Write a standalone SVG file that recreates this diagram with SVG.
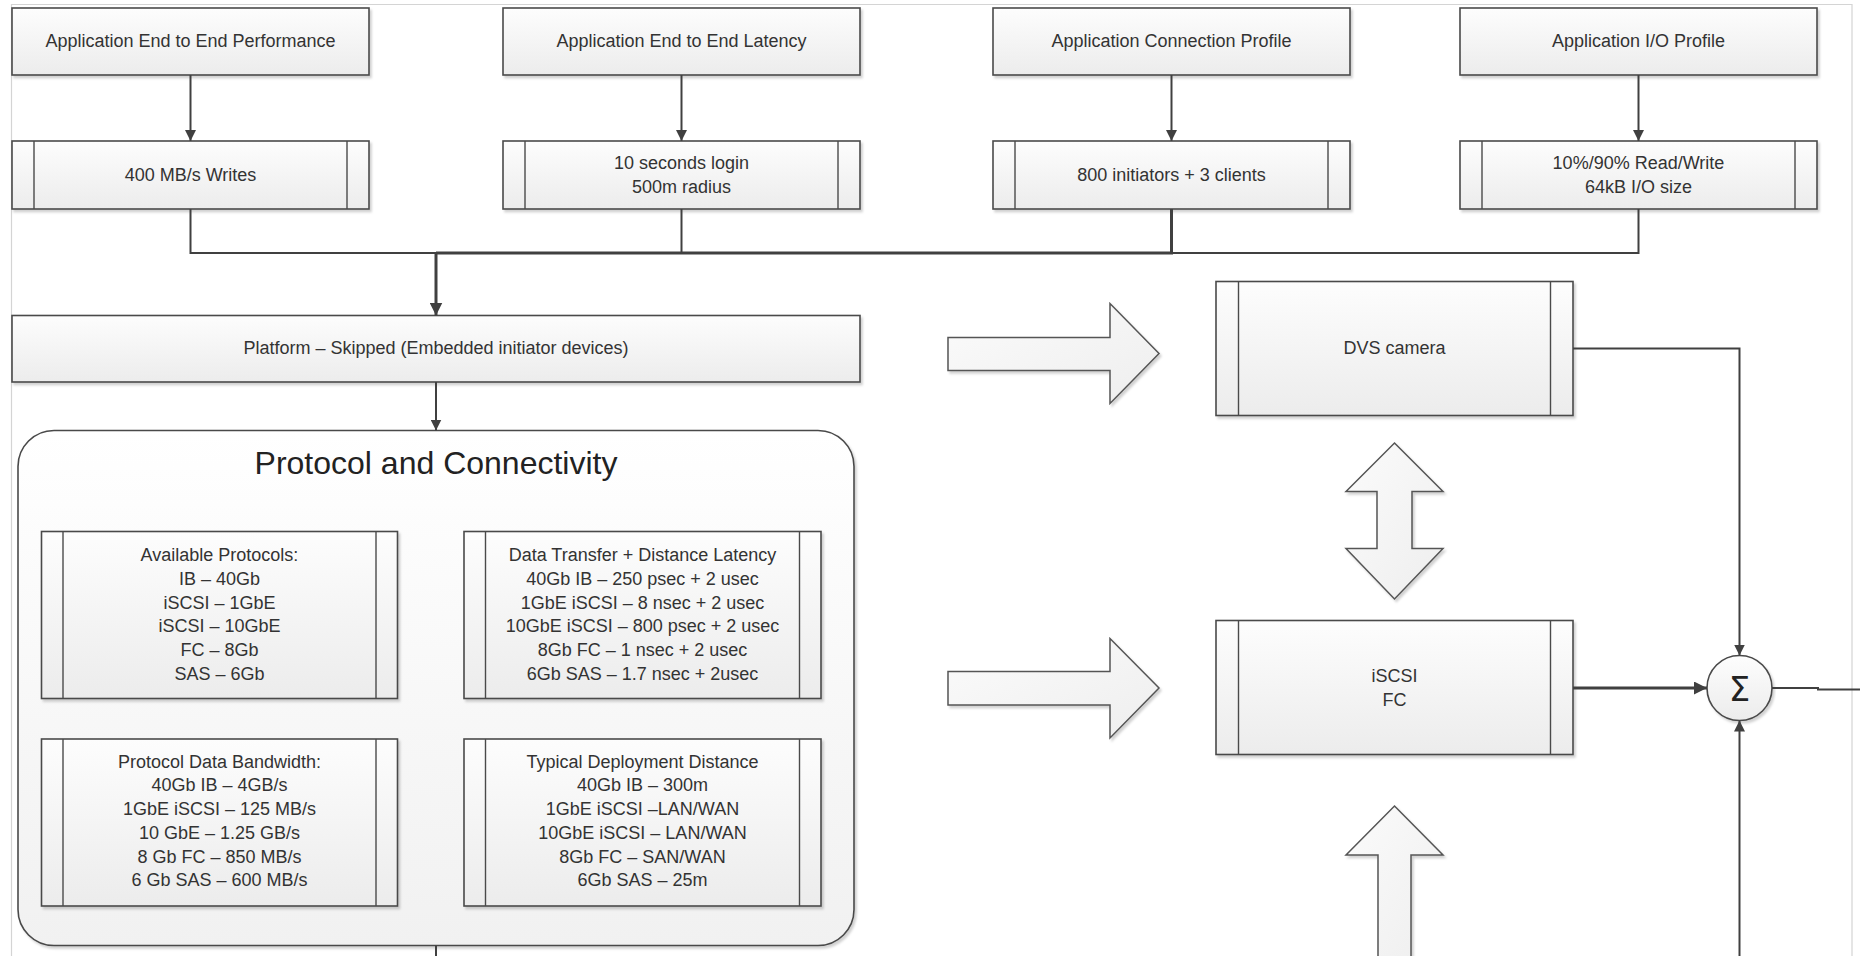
<svg xmlns="http://www.w3.org/2000/svg" width="1860" height="956" viewBox="0 0 1860 956">
<style>
  .box{fill:url(#g);stroke:#4a4a4a;stroke-width:1.6;filter:url(#sh)}
  .bar{stroke:#4a4a4a;stroke-width:1.4}
  .t{font-family:"Liberation Sans",Arial,sans-serif;font-size:18px;fill:#333;text-anchor:middle}
  .title{font-family:"Liberation Sans",Arial,sans-serif;font-size:32px;fill:#222;text-anchor:middle}
  .c{fill:none;stroke:#404040;stroke-width:2}
  .blk{fill:url(#g2);stroke:#555;stroke-width:1.5;filter:url(#sh)}
  .page{stroke:#d4d4d4;stroke-width:1.2;fill:none}
</style>
<defs>
  <linearGradient id="g" x1="0" y1="0" x2="0" y2="1">
    <stop offset="0" stop-color="#fdfdfd"/>
    <stop offset="1" stop-color="#ececec"/>
  </linearGradient>
  <linearGradient id="g2" x1="0" y1="0" x2="1" y2="1">
    <stop offset="0" stop-color="#fbfbfb"/>
    <stop offset="1" stop-color="#eeeeee"/>
  </linearGradient>
  <linearGradient id="gc" x1="0" y1="0" x2="0" y2="1">
    <stop offset="0" stop-color="#ffffff"/>
    <stop offset="1" stop-color="#f1f1f1"/>
  </linearGradient>
  <filter id="sh" x="-5%" y="-5%" width="110%" height="120%">
    <feDropShadow dx="2" dy="2.5" stdDeviation="1.2" flood-color="#000" flood-opacity="0.18"/>
  </filter>
  <marker id="ah" viewBox="0 0 10 10" refX="10" refY="5" markerWidth="11" markerHeight="11" markerUnits="userSpaceOnUse" orient="auto">
    <path d="M0,0 L10,5 L0,10 z" fill="#404040"/>
  </marker>
  <marker id="ahb" viewBox="0 0 10 10" refX="10" refY="5" markerWidth="13" markerHeight="13" markerUnits="userSpaceOnUse" orient="auto">
    <path d="M0,0 L10,5 L0,10 z" fill="#404040"/>
  </marker>
</defs>
<rect width="1860" height="956" fill="#ffffff"/>
<g id="page-border">
  <path class="page" d="M11.5,956 V4.5 H1852 V956"/>
</g>

<g id="app-perf">
  <rect class="box" x="12" y="8" width="357" height="67"/>
  <text class="t" x="190.5" y="47">Application End to End Performance</text>
</g>
<g id="app-latency">
  <rect class="box" x="503" y="8" width="357" height="67"/>
  <text class="t" x="681.5" y="47">Application End to End Latency</text>
</g>
<g id="app-conn">
  <rect class="box" x="993" y="8" width="357" height="67"/>
  <text class="t" x="1171.5" y="47">Application Connection Profile</text>
</g>
<g id="app-io">
  <rect class="box" x="1460" y="8" width="357" height="67"/>
  <text class="t" x="1638.5" y="47">Application I/O Profile</text>
</g>

<g id="perf-val">
  <rect class="box" x="12" y="141" width="357" height="68"/>
  <line class="bar" x1="34" y1="141" x2="34" y2="209"/><line class="bar" x1="347" y1="141" x2="347" y2="209"/>
  <text class="t" x="190.5" y="181">400 MB/s Writes</text>
</g>
<g id="latency-val">
  <rect class="box" x="503" y="141" width="357" height="68"/>
  <line class="bar" x1="525" y1="141" x2="525" y2="209"/><line class="bar" x1="838" y1="141" x2="838" y2="209"/>
  <text class="t" x="681.5" y="169">10 seconds login</text>
  <text class="t" x="681.5" y="192.5">500m radius</text>
</g>
<g id="conn-val">
  <rect class="box" x="993" y="141" width="357" height="68"/>
  <line class="bar" x1="1015" y1="141" x2="1015" y2="209"/><line class="bar" x1="1328" y1="141" x2="1328" y2="209"/>
  <text class="t" x="1171.5" y="181">800 initiators + 3 clients</text>
</g>
<g id="io-val">
  <rect class="box" x="1460" y="141" width="357" height="68"/>
  <line class="bar" x1="1482" y1="141" x2="1482" y2="209"/><line class="bar" x1="1795" y1="141" x2="1795" y2="209"/>
  <text class="t" x="1638.5" y="169">10%/90% Read/Write</text>
  <text class="t" x="1638.5" y="192.5">64kB I/O size</text>
</g>

<g id="platform">
  <rect class="box" x="12" y="315.5" width="848" height="66.5"/>
  <text class="t" x="436" y="354">Platform – Skipped (Embedded initiator devices)</text>
</g>

<g id="protocol-connectivity">
  <rect x="18" y="430.5" width="836" height="515" rx="36" ry="36" fill="url(#gc)" stroke="#4a4a4a" stroke-width="1.6" filter="url(#sh)"/>
  <text class="title" x="436" y="474">Protocol and Connectivity</text>
</g>
<g id="available-protocols">
  <rect class="box" x="41.5" y="531.5" width="356" height="167"/>
  <line class="bar" x1="63" y1="531.5" x2="63" y2="698.5"/><line class="bar" x1="376" y1="531.5" x2="376" y2="698.5"/>
  <text class="t" x="219.5" y="561">Available Protocols:</text>
  <text class="t" x="219.5" y="585">IB – 40Gb</text>
  <text class="t" x="219.5" y="608.5">iSCSI – 1GbE</text>
  <text class="t" x="219.5" y="632">iSCSI – 10GbE</text>
  <text class="t" x="219.5" y="656">FC – 8Gb</text>
  <text class="t" x="219.5" y="680">SAS – 6Gb</text>
</g>
<g id="data-transfer">
  <rect class="box" x="464" y="531.5" width="357" height="167"/>
  <line class="bar" x1="485.5" y1="531.5" x2="485.5" y2="698.5"/><line class="bar" x1="799.5" y1="531.5" x2="799.5" y2="698.5"/>
  <text class="t" x="642.5" y="561">Data Transfer + Distance Latency</text>
  <text class="t" x="642.5" y="585">40Gb IB – 250 psec + 2 usec</text>
  <text class="t" x="642.5" y="608.5">1GbE iSCSI – 8 nsec + 2 usec</text>
  <text class="t" x="642.5" y="632">10GbE iSCSI – 800 psec + 2 usec</text>
  <text class="t" x="642.5" y="656">8Gb FC – 1 nsec + 2 usec</text>
  <text class="t" x="642.5" y="680">6Gb SAS – 1.7 nsec + 2usec</text>
</g>
<g id="data-bandwidth">
  <rect class="box" x="41.5" y="739" width="356" height="167"/>
  <line class="bar" x1="63" y1="739" x2="63" y2="906"/><line class="bar" x1="376" y1="739" x2="376" y2="906"/>
  <text class="t" x="219.5" y="767.5">Protocol Data Bandwidth:</text>
  <text class="t" x="219.5" y="791">40Gb IB – 4GB/s</text>
  <text class="t" x="219.5" y="815">1GbE iSCSI – 125 MB/s</text>
  <text class="t" x="219.5" y="838.5">10 GbE – 1.25 GB/s</text>
  <text class="t" x="219.5" y="862.5">8 Gb FC – 850 MB/s</text>
  <text class="t" x="219.5" y="886">6 Gb SAS – 600 MB/s</text>
</g>
<g id="deployment-distance">
  <rect class="box" x="464" y="739" width="357" height="167"/>
  <line class="bar" x1="485.5" y1="739" x2="485.5" y2="906"/><line class="bar" x1="799.5" y1="739" x2="799.5" y2="906"/>
  <text class="t" x="642.5" y="767.5">Typical Deployment Distance</text>
  <text class="t" x="642.5" y="791">40Gb IB – 300m</text>
  <text class="t" x="642.5" y="815">1GbE iSCSI –LAN/WAN</text>
  <text class="t" x="642.5" y="838.5">10GbE iSCSI – LAN/WAN</text>
  <text class="t" x="642.5" y="862.5">8Gb FC – SAN/WAN</text>
  <text class="t" x="642.5" y="886">6Gb SAS – 25m</text>
</g>

<g id="dvs-camera">
  <rect class="box" x="1216" y="281.5" width="357" height="134"/>
  <line class="bar" x1="1238.5" y1="281.5" x2="1238.5" y2="415.5"/><line class="bar" x1="1550.5" y1="281.5" x2="1550.5" y2="415.5"/>
  <text class="t" x="1394.5" y="354">DVS camera</text>
</g>
<g id="iscsi-fc">
  <rect class="box" x="1216" y="620.5" width="357" height="134"/>
  <line class="bar" x1="1238.5" y1="620.5" x2="1238.5" y2="754.5"/><line class="bar" x1="1550.5" y1="620.5" x2="1550.5" y2="754.5"/>
  <text class="t" x="1394.5" y="682">iSCSI</text>
  <text class="t" x="1394.5" y="706">FC</text>
</g>
<g id="sum">
  <circle cx="1739.5" cy="688" r="32.5" fill="url(#g)" stroke="#4a4a4a" stroke-width="1.6" filter="url(#sh)"/>
  <text x="1739.5" y="701" font-family="'DejaVu Sans','Liberation Sans',sans-serif" font-size="34" fill="#222" text-anchor="middle">Σ</text>
</g>

<g id="block-arrows">
  <path class="blk" d="M948,337.5 H1110 V303.5 L1159,353.5 L1110,403.5 V370.5 H948 Z"/>
  <path class="blk" d="M948,671.5 H1110 V638.5 L1159,688 L1110,738 V705 H948 Z"/>
  <path class="blk" d="M1394.5,443 L1443,491.5 H1412 V548.5 H1443 L1394.5,599 L1346,548.5 H1377 V491.5 H1346 Z"/>
  <path class="blk" d="M1394.5,806 L1443,855 H1411 V962 H1378 V855 H1346 Z"/>
</g>

<g id="connectors">
  <line class="c" x1="190.5" y1="75" x2="190.5" y2="141" marker-end="url(#ah)"/>
  <line class="c" x1="681.5" y1="75" x2="681.5" y2="141" marker-end="url(#ah)"/>
  <line class="c" x1="1171.5" y1="75" x2="1171.5" y2="141" marker-end="url(#ah)"/>
  <line class="c" x1="1638.5" y1="75" x2="1638.5" y2="141" marker-end="url(#ah)"/>
  <path class="c" d="M190.5,209 V253 H436"/>
  <path class="c" d="M681.5,209 V253"/>
  <path class="c" d="M1638.5,209 V253 H1171.5"/>
  <path class="c" style="stroke-width:3" d="M1171.5,209 V253 H436"/>
  <line class="c" style="stroke-width:3" x1="436" y1="253" x2="436" y2="315.5" marker-end="url(#ahb)"/>
  <line class="c" x1="436" y1="382" x2="436" y2="430.5" marker-end="url(#ah)"/>
  <line class="c" x1="436" y1="945.5" x2="436" y2="956"/>
  <path class="c" d="M1573,348.5 H1739.5 V655.5" marker-end="url(#ah)"/>
  <line class="c" style="stroke-width:3" x1="1573" y1="688" x2="1707" y2="688" marker-end="url(#ahb)"/>
  <path class="c" d="M1772,688 H1818 V689.5 H1860"/>
  <line class="c" x1="1739.5" y1="956" x2="1739.5" y2="720.5" marker-end="url(#ah)"/>
</g>
</svg>
